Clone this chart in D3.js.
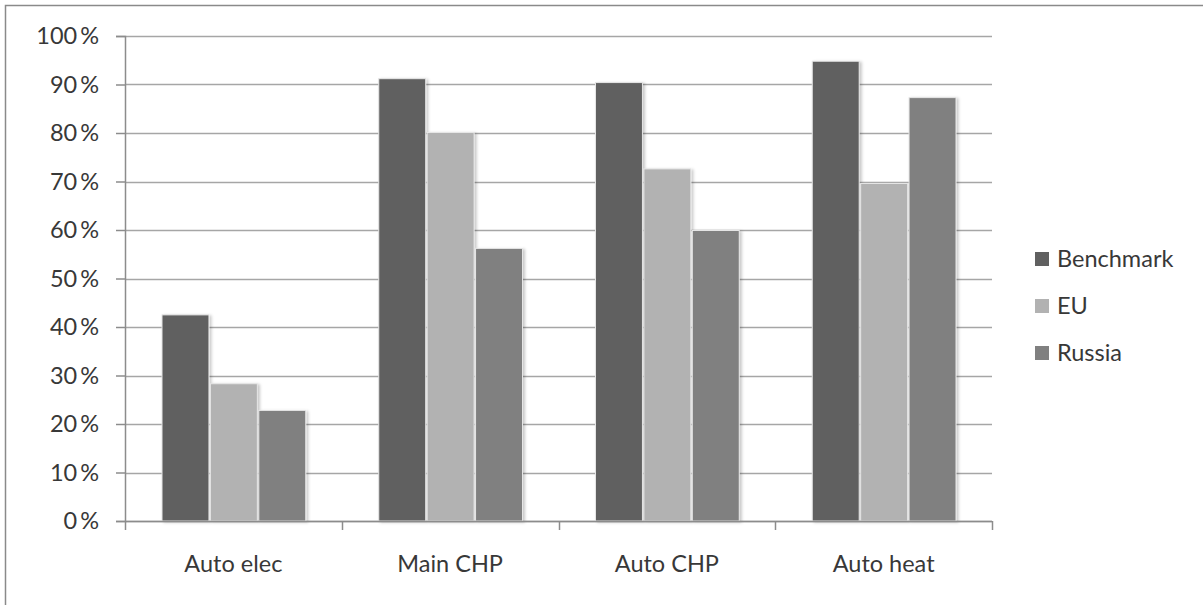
<!DOCTYPE html>
<html>
<head>
<meta charset="utf-8">
<script src="https://cdn.jsdelivr.net/npm/d3@7"></script>
<style>
  body { margin: 0; background: #fff; }
  text { font-family: Lato, 'Open Sans', sans-serif; fill: #383838; }
</style>
</head>
<body>
<div class="chart"></div>
<script>
// categories and series (percent)
var categories = ['Auto elec', 'Main CHP', 'Auto CHP', 'Auto heat']
var seriesNames = ['Benchmark', 'EU', 'Russia']
var benchmark = [42.5, 91.2, 90.4, 94.8]
var eu = [28.3, 80.1, 72.6, 69.6]
var russia = [22.8, 56.2, 59.9, 87.3]
var yTicks = [0, 10, 20, 30, 40, 50, 60, 70, 80, 90, 100]
var colours = ['#606060', '#b2b2b2', '#808080']

var seriesValues = [benchmark, eu, russia]

// margins for the plot area
var margin = { top: 36, right: 211, bottom: 84, left: 125 }
var W = 1203
var H = 605
var width = W - margin.left - margin.right
var height = H - margin.top - margin.bottom
var fontSize = '23.5px'

var svg = d3.select('.chart')
  .append('svg')
  .attr('width', W)
  .attr('height', H)

// soft shadow like the office chart
var defs = svg.append('defs')
var filt = defs.append('filter').attr('id', 'shadow')
  .attr('x', '-20%').attr('y', '-20%').attr('width', '150%').attr('height', '150%')
filt.append('feDropShadow')
  .attr('dx', 2).attr('dy', 1).attr('stdDeviation', 1.6)
  .attr('flood-color', '#000').attr('flood-opacity', 0.22)

// outer frame (top and left are visible)
svg.append('rect')
  .attr('x', 5.5).attr('y', 5.5)
  .attr('width', W).attr('height', H)
  .attr('fill', '#fff')
  .attr('stroke', '#8a8a8a')
  .attr('stroke-width', 1.5)

var g = svg.append('g')
  .attr('transform', 'translate(' + margin.left + ',' + margin.top + ')')

var x0 = d3.scaleBand()
  .domain(categories)
  .range([0, width])
  .paddingInner(0)
  .paddingOuter(0)

var x1 = d3.scaleBand()
  .domain(seriesNames)
  .range([37, x0.bandwidth() - 36])
  .paddingInner(0.03)

var y = d3.scaleLinear()
  .domain([0, 100])
  .range([height, 0])

// gridlines
g.append('g')
  .selectAll('line')
  .data(yTicks)
  .enter()
  .append('line')
  .attr('x1', 0)
  .attr('x2', width)
  .attr('y1', function (d) { return Math.round(y(d)) + 0.5 })
  .attr('y2', function (d) { return Math.round(y(d)) + 0.5 })
  .attr('stroke', '#a6a6a6')
  .attr('stroke-width', 1.5)

// y axis
var yAxis = d3.axisLeft(y)
  .tickValues(yTicks)
  .tickSize(9)
  .tickPadding(17)
  .tickFormat(function (d) { return d + '\u2009%' })

var ya = g.append('g').attr('class', 'y axis').call(yAxis)
ya.select('.domain').attr('stroke', '#8c8c8c').attr('stroke-width', 1.5)
ya.selectAll('.tick line').attr('stroke', '#8c8c8c').attr('stroke-width', 1.5)
ya.selectAll('.tick text')
  .style('font-size', fontSize)
  .attr('fill', '#383838')

// bars
var groups = g.selectAll('.grp')
  .data(categories)
  .enter()
  .append('g')
  .attr('class', 'grp')
  .attr('transform', function (d) { return 'translate(' + x0(d) + ',0)' })

groups.selectAll('rect')
  .data(function (d, i) {
    return seriesNames.map(function (s, j) {
      return { series: s, value: seriesValues[j][i], idx: j }
    })
  })
  .enter()
  .append('rect')
  .attr('x', function (d) { return x1(d.series) })
  .attr('width', x1.bandwidth())
  .attr('y', function (d) { return y(d.value) })
  .attr('height', function (d) { return height - y(d.value) })
  .attr('fill', function (d) { return colours[d.idx] })
  .attr('stroke', '#e6e6e6')
  .attr('stroke-width', 1)
  .attr('filter', 'url(#shadow)')

// x axis
var xAxisG = g.append('g')
  .attr('transform', 'translate(0,' + height + ')')
xAxisG.append('line')
  .attr('x1', 0).attr('x2', width)
  .attr('y1', 0.5).attr('y2', 0.5)
  .attr('stroke', '#8c8c8c').attr('stroke-width', 1.5)
xAxisG.selectAll('.xt')
  .data(d3.range(categories.length + 1))
  .enter()
  .append('line')
  .attr('x1', function (i) { return Math.round(i * x0.bandwidth()) + 0.5 })
  .attr('x2', function (i) { return Math.round(i * x0.bandwidth()) + 0.5 })
  .attr('y1', 0)
  .attr('y2', 9)
  .attr('stroke', '#8c8c8c').attr('stroke-width', 1.5)
xAxisG.selectAll('.xl')
  .data(categories)
  .enter()
  .append('text')
  .attr('x', function (d) { return x0(d) + x0.bandwidth() / 2 })
  .attr('y', 51)
  .style('text-anchor', 'middle')
  .style('font-size', fontSize)
  .text(function (d) { return d })

// legend
var legend = svg.selectAll('.legend')
  .data(seriesNames)
  .enter().append('g')
  .attr('class', 'legend')
  .attr('transform', function (d, i) { return 'translate(1035,' + (252 + i * 47) + ')' })

legend.append('rect')
  .attr('width', 14)
  .attr('height', 14)
  .attr('fill', function (d, i) { return colours[i] })

legend.append('text')
  .attr('x', 22)
  .attr('y', 7)
  .attr('dy', '.36em')
  .style('font-size', fontSize)
  .text(function (d) { return d })
</script>
</body>
</html>
